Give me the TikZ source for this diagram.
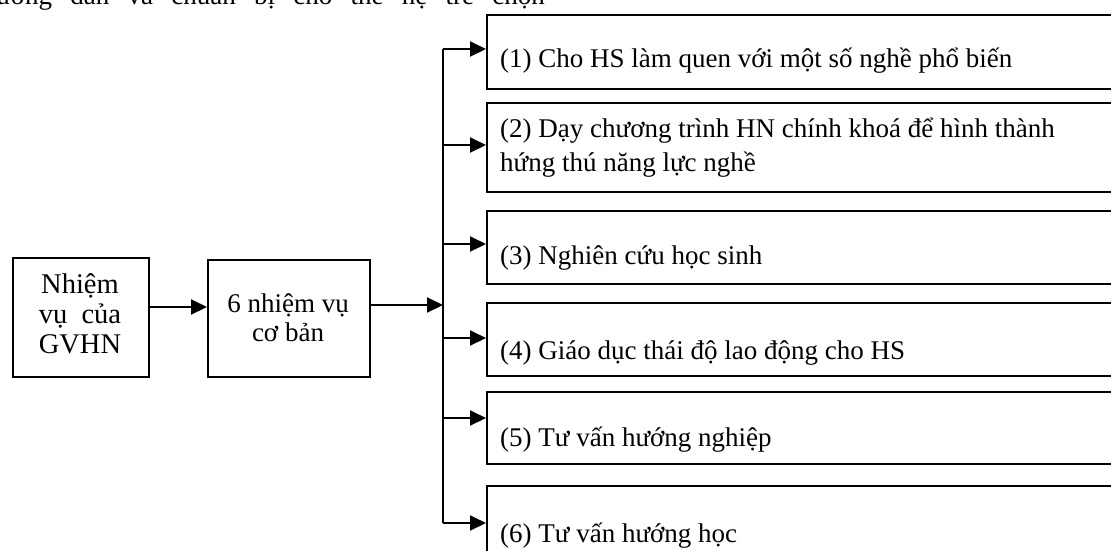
\documentclass[tikz,border=0pt]{standalone}
\usepackage{fontspec}
\setmainfont{Liberation Serif}
\usetikzlibrary{arrows.meta}
\begin{document}
\begin{tikzpicture}[x=1pt,y=-1pt,
  box/.style={draw=black, line width=2pt, rectangle, inner sep=0pt},
  txt/.style={inner sep=0pt, font=\fontsize{27}{31}\selectfont},
  arr/.style={draw=black, line width=2pt, -{Triangle[length=16pt,width=15pt]}},
  ln/.style={draw=black, line width=2pt}]
\useasboundingbox (0,0) rectangle (1111,550);
\clip (0,0) rectangle (1111,550);
\fill[white] (0,0) rectangle (1111,550);
% cut-off heading (justified line)
\node[txt, anchor=base east] (head) at (545,4) {\makebox[562pt][s]{hướng dẫn và chuẩn bị cho thế hệ trẻ chọn}};
% left boxes
\node[box, minimum width=136pt, minimum height=119pt, anchor=north west] (A) at (12,257) {};
\node[txt, align=center, anchor=base, font=\fontsize{28.5}{30}\selectfont] (At) at (80,353) {Nhiệm\\vụ \ của\\GVHN};
\node[box, minimum width=162pt, minimum height=117pt, anchor=north west] (B) at (207,259) {};
\node[txt, align=center, anchor=base, font=\fontsize{27}{29}\selectfont] (Bt) at (288,341) {6 nhiệm vụ\\cơ bản};
% right boxes
\node[box, minimum width=650pt, minimum height=74pt, anchor=north west] (b1) at (486,14) {};
\node[box, minimum width=650pt, minimum height=89pt, anchor=north west] (b2) at (486,102) {};
\node[box, minimum width=650pt, minimum height=73pt, anchor=north west] (b3) at (486,210) {};
\node[box, minimum width=650pt, minimum height=73pt, anchor=north west] (b4) at (486,302) {};
\node[box, minimum width=650pt, minimum height=72pt, anchor=north west] (b5) at (486,391) {};
\node[box, minimum width=650pt, minimum height=80pt, anchor=north west] (b6) at (486,485) {};
\node[txt, anchor=base west] (t1) at (500,67) {(1) Cho HS làm quen với một số nghề phổ biến};
\node[txt, anchor=base west, align=left, font=\fontsize{27}{34}\selectfont] (t2) at (500,171) {(2) Dạy chương trình HN chính khoá để hình thành\\hứng thú năng lực nghề};
\node[txt, anchor=base west] (t3) at (500,264) {(3) Nghiên cứu học sinh};
\node[txt, anchor=base west] (t4) at (500,359) {(4) Giáo dục thái độ lao động cho HS};
\node[txt, anchor=base west] (t5) at (500,446) {(5) Tư vấn hướng nghiệp};
\node[txt, anchor=base west] (t6) at (500,542) {(6) Tư vấn hướng học};
% connectors
\coordinate (vtop) at (443,49);
\coordinate (vbot) at (443,523);
\coordinate (vin) at (443,305);
\draw[arr] (A.east |- 0,307) -- (B.west |- 0,307);
\draw[arr] (B.east |- vin) -- (vin);
\draw[ln] (vtop) -- (vbot);
\draw[arr] (vtop) -- (b1.west |- vtop);
\coordinate (v2) at (443,145);
\coordinate (v3) at (443,244);
\coordinate (v4) at (443,338);
\coordinate (v5) at (443,418);
\draw[arr] (v2) -- (b2.west |- v2);
\draw[arr] (v3) -- (b3.west |- v3);
\draw[arr] (v4) -- (b4.west |- v4);
\draw[arr] (v5) -- (b5.west |- v5);
\draw[arr] (vbot) -- (b6.west |- vbot);
\end{tikzpicture}
\end{document}
